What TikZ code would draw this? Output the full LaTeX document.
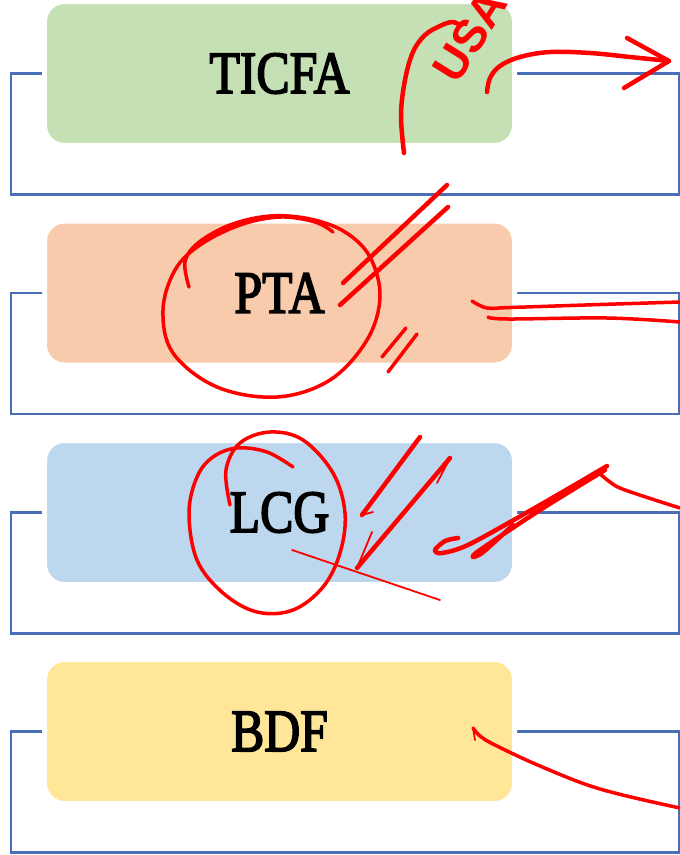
\documentclass[tikz,border=0pt]{standalone}
\usepackage{fontspec}
\setmainfont{Liberation Serif}
\newfontfamily\boxfont[FakeBold=3]{Liberation Serif}
\newfontfamily\handfont{Liberation Sans}
\pgfdeclarelayer{background}
\pgfsetlayers{background,main}
\definecolor{tgreen}{HTML}{C5E0B4}
\definecolor{torange}{HTML}{F8CBAD}
\definecolor{tblue}{HTML}{BDD7EE}
\definecolor{tyellow}{HTML}{FFE699}
\definecolor{lineblue}{HTML}{4A6FB8}
\definecolor{inkred}{HTML}{FF0000}
\begin{document}
\begin{tikzpicture}[x=1pt,y=-1pt,
  box/.style={rounded corners=20pt, minimum width=470pt, minimum height=144pt,
    draw=white, line width=5pt, inner sep=0pt,
    font=\boxfont\fontsize{60}{60}\selectfont},
  frame/.style={draw=lineblue, line width=2.5pt},
  ink/.style={draw=inkred, line width=4.5pt, line cap=round, line join=round},
  midink/.style={draw=inkred, line width=3.5pt, line cap=round, line join=round},
  thinink/.style={draw=inkred, line width=1.8pt, line cap=round, line join=round}]
\useasboundingbox (0,0) rectangle (680,855);

% boxes
\node[box, fill=tgreen]  (t) at (279.5,73.5)  {\scalebox{0.83}[1]{TICFA}};
\node[box, fill=torange] (p) at (279.5,293)   {\scalebox{0.83}[1]{PTA}};
\node[box, fill=tblue]   (l) at (279.5,512.5) {\scalebox{0.83}[1]{LCG}};
\node[box, fill=tyellow] (b) at (279.5,731.5) {\scalebox{0.83}[1]{BDF}};

% frames behind the boxes
\begin{pgfonlayer}{background}
\foreach \n in {t,p,l,b}{
  \draw[frame] (\n.center) ++(-268.5,0) rectangle ++(668,121);
}
\end{pgfonlayer}

% red annotations
\node[text=inkred, font=\handfont\bfseries\fontsize{46}{46}\selectfont, rotate=58, inner sep=0pt] (usa) at (470,36) {USA};
\draw[ink] plot[smooth, tension=0.6] coordinates {(404,153) (401,115) (405,80) (413,52) (425,35) (440,26) (452,22) (460,25)};
\coordinate (arrtip) at (669,61);
\draw[ink] plot[smooth, tension=0.6] coordinates {(487,92) (490,78) (500,66) (520,57) (550,52) (590,53) (630,57) (669,61)};
\draw[ink] (627,38) -- (arrtip) -- (624,88);

% PTA circle and strokes
\draw[midink] plot[smooth, tension=0.6] coordinates {(189,287) (185,262) (198,243) (230,225) (270,216) (310,219) (345,232) (370,257) (380,297) (367,340) (330,380) (277,397) (217,387) (173,353) (163,310) (175,270) (200,245) (240,225) (280,217) (315,222) (333,232)};
\draw[ink] (343,283) -- (447,185);
\draw[ink] (340,305) -- (448,207);
\draw[midink] (382,357) -- (406,328);
\draw[midink] (388,372) -- (417,334);
\draw[midink] plot[smooth, tension=0.6] coordinates {(472,301) (487,308) (510,307.5) (600,304.5) (680,302)};
\draw[midink] plot[smooth, tension=0.6] coordinates {(488,317) (508,319) (607,318) (680,322)};

% LCG circle and strokes
\draw[midink] plot[smooth, tension=0.6] coordinates {(230,505) (226,470) (240,443) (270,432) (303,440) (333,473) (345,513) (340,553) (323,587) (293,610) (257,612) (223,593) (197,560) (189,513) (197,477) (213,457) (237,448) (267,452) (293,467)};
\draw[thinink] (292,550) -- (440,600);
\draw[ink] (420,437) -- (362,515);
\draw[thinink] (362,515) -- (373,512);
\draw[ink] (450,458) -- (357,568);
\draw[thinink] (450,458) -- (437,483);
\draw[thinink] (357,568) -- (372,532);
\draw[ink] plot[smooth, tension=0.5] coordinates {(458,538) (445,541) (435,550) (442,553) (470,544) (540,505) (607,466)};
\draw[ink] plot[smooth, tension=0.5] coordinates {(605,470) (540,510) (480,550) (473,557) (482,553) (500,537) (513,525)};
\draw[midink] plot[smooth, tension=0.6] coordinates {(598,472) (610,482) (625,490) (680,508)};

% BDF stroke
\draw[midink] plot[smooth, tension=0.6] coordinates {(473,728) (480,736) (495,745) (540,766) (600,789) (680,808)};
\draw[thinink] (473,728) -- (475,740);
\end{tikzpicture}
\end{document}
